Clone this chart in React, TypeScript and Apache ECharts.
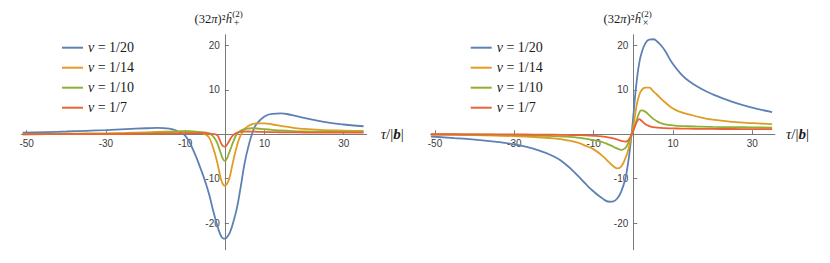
import React, { useEffect, useRef } from "react";
import * as echarts from "echarts";

const TAU = [-51, -45, -40, -35, -30, -25, -20, -17, -14, -12, -10, -8, -6, -5, -4, -3, -2, -1.5, -1, -0.5, 0, 0.5, 1, 1.5, 2, 3, 4, 5, 6, 7, 8, 10, 12, 14, 17, 20, 25, 30, 35];

const NAMES = ["v = 1/20", "v = 1/14", "v = 1/10", "v = 1/7"];
const COLORS = ["#5E81B5", "#E19C24", "#8FB032", "#EB6235"];

// left panel: (32π)² ĥ+
const HPLUS_20 = [0.35, 0.5, 0.62, 0.78, 0.95, 1.15, 1.35, 1.45, 1.25, 0.7, -0.3, -3.5, -8.0, -10.5, -13.4, -17.0, -20.3, -21.7, -22.8, -23.4, -23.5, -23.2, -22.6, -21.6, -20.2, -16.8, -11.9, -6.5, -2.6, 0.4, 2.3, 4.0, 4.6, 4.7, 4.3, 3.7, 2.8, 2.2, 1.8];
const HPLUS_14 = [0.05, 0.08, 0.12, 0.17, 0.22, 0.3, 0.42, 0.52, 0.6, 0.65, 0.62, 0.5, 0.25, 0.0, -0.7, -2.9, -6.0, -8.0, -10.0, -11.2, -11.6, -11.2, -10.3, -8.6, -6.5, -2.8, -0.2, 1.2, 1.9, 2.3, 2.45, 2.45, 2.2, 1.9, 1.5, 1.2, 0.95, 0.82, 0.75];
const HPLUS_10 = [0.0, 0.02, 0.04, 0.07, 0.1, 0.15, 0.25, 0.35, 0.5, 0.6, 0.7, 0.65, 0.5, 0.4, 0.2, -0.4, -1.8, -3.0, -4.3, -5.5, -6.0, -5.5, -4.4, -3.2, -2.0, 0.0, 0.8, 1.15, 1.3, 1.35, 1.3, 1.15, 1.0, 0.85, 0.72, 0.64, 0.56, 0.52, 0.5];
const HPLUS_7 = [0.0, 0.01, 0.02, 0.03, 0.04, 0.06, 0.09, 0.12, 0.16, 0.2, 0.24, 0.27, 0.26, 0.22, 0.15, 0.05, -0.15, -0.8, -1.9, -2.6, -2.8, -2.4, -1.7, -0.9, -0.3, 0.3, 0.55, 0.62, 0.62, 0.6, 0.57, 0.52, 0.48, 0.45, 0.42, 0.4, 0.38, 0.36, 0.35];

// right panel: (32π)² ĥ×
const HCROSS_20 = [-0.5, -0.85, -1.2, -1.65, -2.3, -3.3, -5.0, -6.8, -9.3, -11.2, -12.9, -14.3, -15.2, -15.1, -14.4, -12.8, -10.0, -7.5, -4.5, -0.5, 4.0, 9.0, 13.0, 16.0, 18.0, 20.4, 21.3, 21.4, 20.9, 20.0, 18.8, 15.8, 13.6, 12.0, 10.3, 9.0, 7.3, 6.0, 5.0];
const HCROSS_14 = [-0.1, -0.15, -0.2, -0.3, -0.42, -0.62, -0.95, -1.3, -1.9, -2.6, -3.4, -4.7, -6.4, -7.2, -7.7, -7.2, -5.4, -4.2, -2.6, -0.3, 1.8, 4.6, 7.2, 8.8, 9.8, 10.5, 10.5, 9.7, 8.9, 8.0, 7.2, 5.8, 5.0, 4.5, 3.8, 3.3, 2.8, 2.5, 2.3];
const HCROSS_10 = [0.0, -0.02, -0.05, -0.1, -0.15, -0.25, -0.4, -0.55, -0.75, -1.0, -1.3, -1.7, -2.4, -2.8, -3.25, -3.5, -3.1, -2.4, -1.5, -0.3, 0.8, 2.2, 3.6, 4.8, 5.4, 5.1, 4.3, 3.5, 2.9, 2.5, 2.25, 2.0, 1.85, 1.8, 1.7, 1.65, 1.6, 1.55, 1.5];
const HCROSS_7 = [0.0, 0.0, -0.02, -0.03, -0.05, -0.07, -0.1, -0.15, -0.2, -0.25, -0.35, -0.5, -0.75, -0.95, -1.2, -1.5, -1.65, -1.5, -1.0, -0.2, 0.8, 2.0, 3.0, 3.4, 3.1, 2.3, 1.85, 1.6, 1.5, 1.42, 1.38, 1.32, 1.28, 1.25, 1.22, 1.2, 1.18, 1.16, 1.15];

const X_TICKS = [-50, -30, -10, 10, 30];
const Y_TICKS = [-20, -10, 10, 20];

const SERIF = "Liberation Serif";
const SANS = "Liberation Sans";
const AXIS_COLOR = "#7a7a7a";
const LABEL_COLOR = "#3c3c3c";
const TEXT_COLOR = "#1a1a1a";

// plot geometry
const Y_MIN = -26;
const Y_MAX = 22.4;
const GRID_TOP = 34.8;
const GRID_H = 214.9;

function makeXAxis(gridIndex: number, min: number, max: number, nameGap: number) {
  // shift the axis from the grid bottom up to y = 0
  const offset = -(GRID_H * (0 - Y_MIN)) / (Y_MAX - Y_MIN);
  return {
    type: "value",
    gridIndex,
    min,
    max,
    position: "bottom",
    offset,
    axisLine: { onZero: false, lineStyle: { color: AXIS_COLOR, width: 1 } },
    axisTick: { show: true, inside: true, length: 4, customValues: X_TICKS, lineStyle: { color: AXIS_COLOR } },
    axisLabel: { customValues: X_TICKS, margin: 4, fontSize: 10, fontFamily: SANS, color: LABEL_COLOR },
    splitLine: { show: false },
    name: "{i|τ}{n|/|}{b|b}{n||}",
    nameLocation: "end",
    nameGap,
    nameTextStyle: {
      color: TEXT_COLOR,
      fontFamily: SERIF,
      fontSize: 15,
      rich: {
        i: { fontFamily: SERIF, fontSize: 15, fontStyle: "italic", color: TEXT_COLOR },
        n: { fontFamily: SERIF, fontSize: 15, color: TEXT_COLOR },
        b: { fontFamily: SERIF, fontSize: 15, fontStyle: "italic", fontWeight: "bold", color: TEXT_COLOR },
      },
    },
  };
}

function makeYAxis(gridIndex: number, xMin: number, xMax: number, gridW: number) {
  // shift the axis from the grid left edge right to x = 0
  const offset = -(gridW * (0 - xMin)) / (xMax - xMin);
  return {
    type: "value",
    gridIndex,
    min: Y_MIN,
    max: Y_MAX,
    position: "left",
    offset,
    axisLine: { onZero: false, lineStyle: { color: AXIS_COLOR, width: 1 } },
    axisTick: { show: true, inside: true, length: 4, customValues: Y_TICKS, lineStyle: { color: AXIS_COLOR } },
    axisLabel: { customValues: Y_TICKS, margin: 5, fontSize: 10, fontFamily: SANS, color: LABEL_COLOR },
    splitLine: { show: false },
  };
}

function makeLegend(left: number) {
  return {
    left,
    top: 39.7,
    padding: 0,
    orient: "vertical",
    icon: "rect",
    itemWidth: 21,
    itemHeight: 2,
    itemGap: 4,
    data: NAMES,
    selectedMode: false,
    formatter: (name: string) => "{i|v}{n|" + name.slice(1) + "}",
    textStyle: {
      fontFamily: SERIF,
      fontSize: 14,
      lineHeight: 16,
      color: TEXT_COLOR,
      rich: {
        i: { fontFamily: SERIF, fontSize: 14, lineHeight: 16, fontStyle: "italic", color: TEXT_COLOR },
        n: { fontFamily: SERIF, fontSize: 14, lineHeight: 16, color: TEXT_COLOR },
      },
    },
  };
}

function makeSeries(idx: number, values: number[][]) {
  return values.map((vals, k) => ({
    type: "line",
    name: NAMES[k],
    xAxisIndex: idx,
    yAxisIndex: idx,
    data: TAU.map((t, i) => [t, vals[i]]),
    smooth: true,
    showSymbol: false,
    symbol: "none",
    color: COLORS[k],
    lineStyle: { color: COLORS[k], width: 1.8 },
    z: 3 + k,
  }));
}

function titleGraphics(rightX: number, sub: string) {
  const rich = {
    n: { fontFamily: SERIF, fontSize: 12.5, color: TEXT_COLOR },
    i: { fontFamily: SERIF, fontSize: 12.5, fontStyle: "italic", color: TEXT_COLOR },
  };
  return [
    {
      type: "text",
      x: rightX,
      y: 18.5,
      style: { text: "{n|(32}{i|π}{n|)²}{i|ĥ}", rich, align: "right", verticalAlign: "middle", fill: TEXT_COLOR },
    },
    {
      type: "text",
      x: rightX + 0.5,
      y: 13.5,
      style: { text: "(2)", fontFamily: SERIF, fontSize: 9, align: "left", verticalAlign: "middle", fill: TEXT_COLOR },
    },
    {
      type: "text",
      x: rightX + 2,
      y: 22.5,
      style: { text: sub, fontFamily: SERIF, fontSize: 10, align: "left", verticalAlign: "middle", fill: TEXT_COLOR },
    },
  ];
}

export default function App() {
  const ref = useRef<HTMLDivElement>(null);
  useEffect(() => {
    const chart = echarts.init(ref.current!, null, { renderer: "svg" });
    const L = { xMin: -51.3, xMax: 35.8, left: 21.5, w: 345.2 };
    const R = { xMin: -51.1, xMax: 35.7, left: 430.6, w: 344.3 };
    const option = {
      animation: false,
      backgroundColor: "#ffffff",
      grid: [
        { left: L.left, top: GRID_TOP, width: L.w, height: GRID_H, containLabel: false },
        { left: R.left, top: GRID_TOP, width: R.w, height: GRID_H, containLabel: false },
      ],
      xAxis: [makeXAxis(0, L.xMin, L.xMax, 14), makeXAxis(1, R.xMin, R.xMax, 11)],
      yAxis: [makeYAxis(0, L.xMin, L.xMax, L.w), makeYAxis(1, R.xMin, R.xMax, R.w)],
      legend: [makeLegend(62), makeLegend(470.7)],
      graphic: [...titleGraphics(231.7, "+"), ...titleGraphics(640.7, "×")],
      series: [
        ...makeSeries(0, [HPLUS_20, HPLUS_14, HPLUS_10, HPLUS_7]),
        ...makeSeries(1, [HCROSS_20, HCROSS_14, HCROSS_10, HCROSS_7]),
      ],
    };
    chart.setOption(option as any);
    return () => chart.dispose();
  }, []);
  return (
    <div
      ref={ref}
      style={{ position: "absolute", left: 0, top: 0, width: 830, height: 263, background: "#fff" }}
    />
  );
}
